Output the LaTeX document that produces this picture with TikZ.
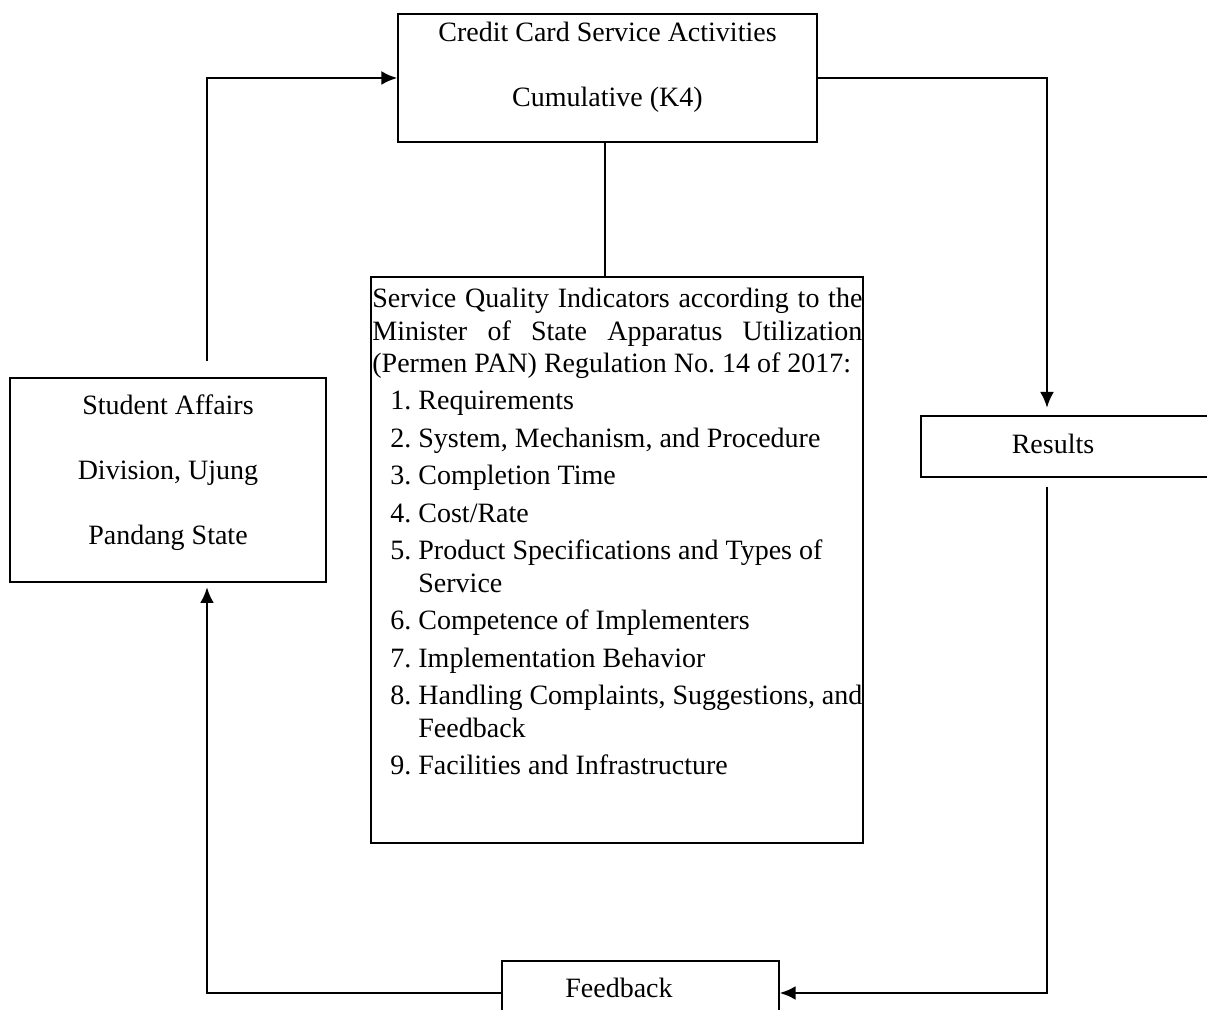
\documentclass[tikz,border=0pt]{standalone}
\usepackage{fontspec}
\setmainfont{Liberation Serif}
\usetikzlibrary{arrows.meta,positioning}

\newcommand{\qitem}[2]{\par\hangindent=23pt\hangafter=1\noindent\hspace*{9pt}\makebox[14pt][l]{#1}#2}

\begin{document}
\begin{tikzpicture}[x=0.5pt,y=-0.5pt,
  box/.style={draw,line width=0.6pt,inner sep=0pt},
  txt/.style={inner sep=0pt,align=center,font=\fontsize{14}{32.5}\selectfont},
  link/.style={line width=1.4pt,-{Latex[length=8pt,width=7pt]}},
  plain/.style={line width=1pt}]
\useasboundingbox (0,0) rectangle (1207,1010);

\node[box,minimum width=209.5pt,minimum height=64pt] (act) at (607.5,78) {};
\node[box,minimum width=246pt,minimum height=283pt] (ind) at (617,560) {};
\node[box,minimum width=158pt,minimum height=102pt] (stu) at (168,480) {};
\node[box,minimum width=155pt,minimum height=30.5pt] (res) at (1076,446.5) {};
\node[box,minimum width=138.5pt,minimum height=32pt] (fb) at (640.5,993) {};

\node[txt,anchor=north] (actTxt) at (607.5,21.2) {Credit Card Service Activities\\Cumulative (K4)};
\node[txt,anchor=north] (stuTxt) at (168,394.2) {Student Affairs\\Division, Ujung\\Pandang State};
\node[txt,anchor=base] (resTxt) at (1053,453.5) {Results};
\node[txt,anchor=base] (fbTxt) at (619,998) {Feedback};

\node[anchor=north west,inner sep=0pt,text width=245pt,font=\fontsize{14}{16.15}\selectfont] (indTxt) at (372,288) {%
\frenchspacing\hyphenpenalty=10000\spaceskip=3.5pt plus 3pt minus 1.5pt
\rightskip=0pt\leftskip=0pt\parfillskip=0pt plus 1fil\parindent=0pt
\noindent Service Quality Indicators according to the\linebreak
Minister of State Apparatus Utilization\linebreak
(Permen PAN) Regulation No.~14 of 2017:\par
\raggedright\setlength{\parskip}{2.6pt}%
\qitem{1.}{Requirements}
\qitem{2.}{System, Mechanism, and Procedure}
\qitem{3.}{Completion Time}
\qitem{4.}{Cost/Rate}
\qitem{5.}{Product Specifications and Types~of\newline Service}
\qitem{6.}{Competence of Implementers}
\qitem{7.}{Implementation Behavior}
\qitem{8.}{Handling Complaints, Suggestions,~and\newline Feedback}
\qitem{9.}{Facilities and Infrastructure}\par};

% free ends of the loop
\coordinate (stuOut) at (207,361);
\coordinate (stuIn) at (207,587);
\coordinate (resIn) at (1047,408);
\coordinate (resOut) at (1047,487);
\coordinate (indIn) at (605,277);

\draw[link] (stuOut) |- (act.west);
\draw[link] (act.east) -| (resIn);
\draw[link] (resOut) |- (fb.east);
\draw[link] (fb.west) -| (stuIn);
\draw[plain] (act.south -| indIn) -- (indIn);
\end{tikzpicture}
\end{document}
